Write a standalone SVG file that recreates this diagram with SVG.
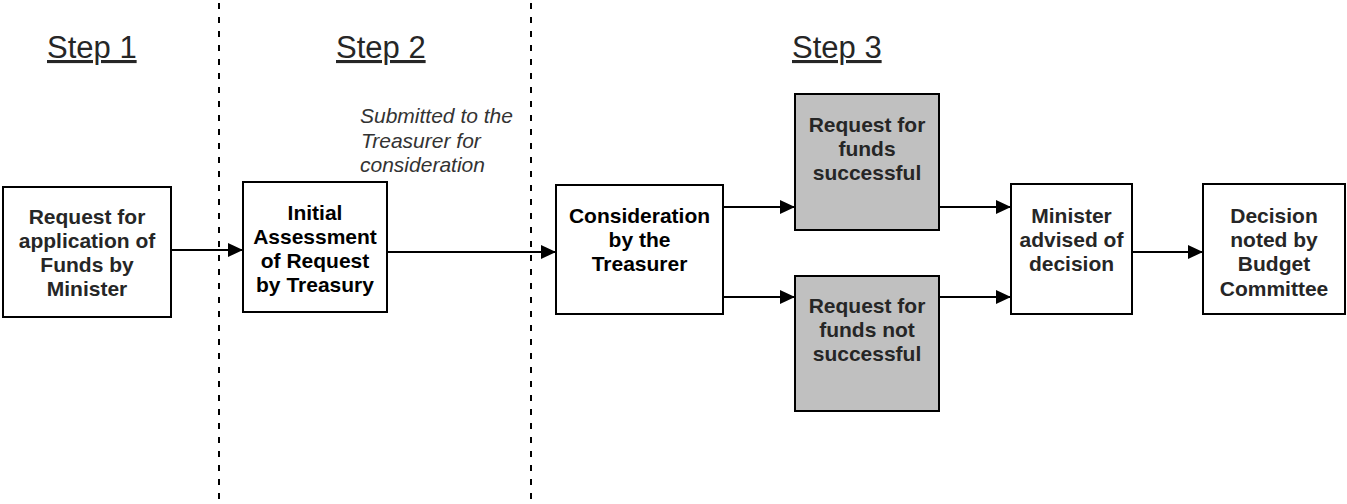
<svg xmlns="http://www.w3.org/2000/svg" width="1347" height="504" viewBox="0 0 1347 504">
  <defs>
    <marker id="arrow" viewBox="0 0 15 14" refX="15" refY="7" markerWidth="15" markerHeight="14" markerUnits="userSpaceOnUse" orient="auto">
      <path d="M0,0 L15,7 L0,14 Z" fill="#000"/>
    </marker>
    <style>
      .box { fill: #fff; stroke: #000; stroke-width: 2; }
      .grey { fill: #c0c0c0; stroke: #000; stroke-width: 2; }
      .lbl { font-family: "Liberation Sans", Arial, sans-serif; font-size: 21px; font-weight: bold; fill: #262626; text-anchor: middle; }
      .dark { fill: #000; }
      .step { font-family: "Liberation Sans", Arial, sans-serif; font-size: 31px; fill: #262626; text-decoration: underline; }
      .note { font-family: "Liberation Sans", Arial, sans-serif; font-size: 21px; font-style: italic; fill: #333; }
      .edge { stroke: #000; stroke-width: 2; fill: none; marker-end: url(#arrow); }
      .divider { stroke: #000; stroke-width: 2; stroke-dasharray: 6 8; }
    </style>
  </defs>

  <!-- stage dividers -->
  <g id="dividers">
    <line class="divider" x1="219" y1="3" x2="219" y2="504"/>
    <line class="divider" x1="531" y1="3" x2="531" y2="504"/>
  </g>

  <!-- stage headings -->
  <g id="headings">
    <text class="step" x="47" y="58">Step 1</text>
    <text class="step" x="336" y="58">Step 2</text>
    <text class="step" x="792" y="58">Step 3</text>
  </g>

  <g id="note">
    <text class="note" x="360" y="123">Submitted to the</text>
    <text class="note" x="361" y="148">Treasurer for</text>
    <text class="note" x="360" y="172">consideration</text>
  </g>

  <!-- connectors -->
  <g id="connectors">
    <line class="edge" x1="171" y1="250" x2="243" y2="250"/>
    <line class="edge" x1="387" y1="252" x2="556" y2="252"/>
    <line class="edge" x1="723" y1="207" x2="795" y2="207"/>
    <line class="edge" x1="723" y1="297" x2="795" y2="297"/>
    <line class="edge" x1="939" y1="207" x2="1011" y2="207"/>
    <line class="edge" x1="939" y1="297" x2="1011" y2="297"/>
    <line class="edge" x1="1132" y1="252" x2="1203" y2="252"/>
  </g>

  <g id="request">
    <rect class="box" x="3" y="187" width="168" height="130"/>
    <text class="lbl" x="87" y="224">Request for</text>
    <text class="lbl" x="87" y="248">application of</text>
    <text class="lbl" x="87" y="272">Funds by</text>
    <text class="lbl" x="87" y="296">Minister</text>
  </g>

  <g id="assessment">
    <rect class="box" x="243" y="182" width="144" height="130"/>
    <text class="lbl dark" x="315" y="220">Initial</text>
    <text class="lbl dark" x="315" y="244">Assessment</text>
    <text class="lbl dark" x="315" y="268">of Request</text>
    <text class="lbl dark" x="315" y="292">by Treasury</text>
  </g>

  <g id="consideration">
    <rect class="box" x="556" y="185" width="167" height="129"/>
    <text class="lbl dark" x="639.5" y="223">Consideration</text>
    <text class="lbl dark" x="639.5" y="247">by the</text>
    <text class="lbl dark" x="639.5" y="271">Treasurer</text>
  </g>

  <g id="successful">
    <rect class="grey" x="795" y="94" width="144" height="136"/>
    <text class="lbl" x="867" y="132">Request for</text>
    <text class="lbl" x="867" y="156">funds</text>
    <text class="lbl" x="867" y="180">successful</text>
  </g>

  <g id="unsuccessful">
    <rect class="grey" x="795" y="276" width="144" height="135"/>
    <text class="lbl" x="867" y="313">Request for</text>
    <text class="lbl" x="867" y="337">funds not</text>
    <text class="lbl" x="867" y="361">successful</text>
  </g>

  <g id="advised">
    <rect class="box" x="1011" y="184" width="121" height="130"/>
    <text class="lbl" x="1071.5" y="223">Minister</text>
    <text class="lbl" x="1071.5" y="247">advised of</text>
    <text class="lbl" x="1071.5" y="271">decision</text>
  </g>

  <g id="noted">
    <rect class="box" x="1203" y="184" width="142" height="130"/>
    <text class="lbl" x="1274" y="223">Decision</text>
    <text class="lbl" x="1274" y="247">noted by</text>
    <text class="lbl" x="1274" y="271">Budget</text>
    <text class="lbl" x="1274" y="296">Committee</text>
  </g>
</svg>
